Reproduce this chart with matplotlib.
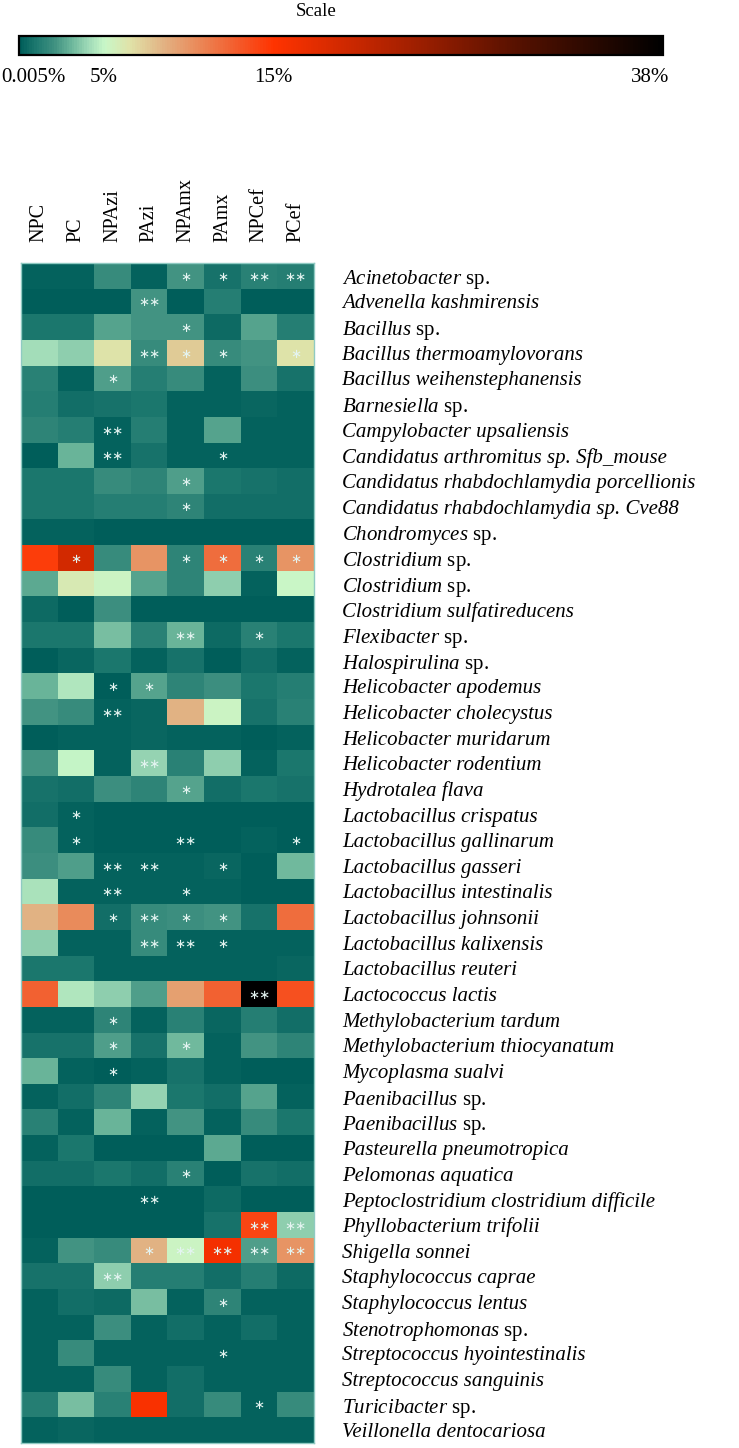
"""
Heatmap of relative abundance (%) per species and treatment group,
with significance marks and a horizontal colour scale on top.
Saves out.png.
"""
import matplotlib
matplotlib.use("Agg")
import matplotlib.pyplot as plt
from matplotlib.cm import ScalarMappable
from matplotlib.colors import LinearSegmentedColormap, Normalize
from matplotlib.transforms import ScaledTranslation

plt.rcParams["font.family"] = ["Liberation Serif", "DejaVu Serif"]
plt.rcParams["mathtext.fontset"] = "custom"
plt.rcParams["mathtext.it"] = "Liberation Serif:italic"
plt.rcParams["mathtext.rm"] = "Liberation Serif"

groups = ["NPC", "PC", "NPAzi", "PAzi", "NPAmx", "PAmx", "NPCef", "PCef"]

species = [
    "Acinetobacter sp.",
    "Advenella kashmirensis",
    "Bacillus sp.",
    "Bacillus thermoamylovorans",
    "Bacillus weihenstephanensis",
    "Barnesiella sp.",
    "Campylobacter upsaliensis",
    "Candidatus arthromitus sp. Sfb_mouse",
    "Candidatus rhabdochlamydia porcellionis",
    "Candidatus rhabdochlamydia sp. Cve88",
    "Chondromyces sp.",
    "Clostridium sp.",
    "Clostridium sp.",
    "Clostridium sulfatireducens",
    "Flexibacter sp.",
    "Halospirulina sp.",
    "Helicobacter apodemus",
    "Helicobacter cholecystus",
    "Helicobacter muridarum",
    "Helicobacter rodentium",
    "Hydrotalea flava",
    "Lactobacillus crispatus",
    "Lactobacillus gallinarum",
    "Lactobacillus gasseri",
    "Lactobacillus intestinalis",
    "Lactobacillus johnsonii",
    "Lactobacillus kalixensis",
    "Lactobacillus reuteri",
    "Lactococcus lactis",
    "Methylobacterium tardum",
    "Methylobacterium thiocyanatum",
    "Mycoplasma sualvi",
    "Paenibacillus sp.",
    "Paenibacillus sp.",
    "Pasteurella pneumotropica",
    "Pelomonas aquatica",
    "Peptoclostridium clostridium difficile",
    "Phyllobacterium trifolii",
    "Shigella sonnei",
    "Staphylococcus caprae",
    "Staphylococcus lentus",
    "Stenotrophomonas sp.",
    "Streptococcus hyointestinalis",
    "Streptococcus sanguinis",
    "Turicibacter sp.",
    "Veillonella dentocariosa",
]

# relative abundance (%), one row per species, columns in the order of groups
abundance = [
    [0.2, 0.2, 1.8, 0.2, 2.2, 0.8, 1.4, 1.3],
    [0.1, 0.1, 0.1, 2.2, 0.1, 1.2, 0.1, 0.1],
    [1.0, 0.9, 2.6, 2.2, 2.2, 0.5, 2.6, 1.2],
    [4.2, 3.8, 6.5, 1.8, 7.5, 1.8, 2.2, 6.5],
    [1.4, 0.2, 2.4, 1.2, 1.8, 0.3, 2.0, 0.8],
    [1.2, 0.6, 0.8, 1.0, 0.2, 0.2, 0.4, 0.3],
    [1.6, 1.2, 0.3, 1.2, 0.2, 2.6, 0.2, 0.2],
    [0.1, 3.0, 0.2, 0.8, 0.2, 0.2, 0.2, 0.2],
    [1.0, 1.0, 1.8, 1.6, 2.4, 1.0, 0.8, 0.6],
    [1.0, 0.9, 1.2, 1.2, 1.6, 0.7, 0.6, 0.6],
    [0.3, 0.3, 0.1, 0.1, 0.1, 0.1, 0.1, 0.1],
    [14.5, 19.0, 1.8, 10.0, 1.5, 12.0, 1.4, 10.0],
    [2.8, 6.0, 5.2, 2.6, 1.5, 3.8, 0.3, 5.1],
    [0.5, 0.1, 2.0, 0.1, 0.1, 0.1, 0.1, 0.1],
    [0.9, 0.9, 3.4, 1.4, 3.0, 0.5, 1.4, 1.0],
    [0.1, 0.4, 1.0, 0.2, 0.8, 0.1, 0.7, 0.3],
    [3.0, 4.5, 0.1, 2.6, 1.6, 2.0, 1.0, 1.2],
    [2.2, 1.8, 0.2, 0.4, 8.5, 5.2, 0.8, 1.4],
    [0.1, 0.3, 0.2, 0.4, 0.2, 0.3, 0.1, 0.2],
    [2.2, 5.0, 0.2, 4.0, 1.4, 3.8, 0.2, 1.0],
    [0.8, 0.6, 2.0, 1.6, 2.6, 0.6, 1.0, 0.8],
    [0.6, 0.2, 0.1, 0.1, 0.1, 0.1, 0.1, 0.1],
    [1.8, 0.3, 0.1, 0.1, 0.1, 0.1, 0.2, 0.1],
    [2.0, 2.4, 0.3, 0.3, 0.3, 0.4, 0.1, 3.2],
    [4.4, 0.2, 0.2, 0.2, 0.3, 0.2, 0.1, 0.1],
    [8.5, 10.5, 0.6, 1.8, 2.0, 2.2, 0.8, 12.0],
    [3.8, 0.3, 0.2, 1.8, 0.2, 0.2, 0.2, 0.3],
    [0.9, 1.0, 0.2, 0.2, 0.3, 0.2, 0.3, 0.4],
    [12.5, 4.6, 3.8, 2.4, 9.5, 12.5, 38.0, 13.5],
    [0.3, 0.3, 1.6, 0.2, 1.4, 0.4, 1.2, 0.6],
    [0.8, 0.8, 2.4, 0.8, 3.2, 0.3, 2.2, 1.6],
    [3.0, 0.2, 0.1, 0.3, 0.8, 0.3, 0.1, 0.1],
    [0.3, 0.6, 1.6, 4.0, 1.0, 0.7, 2.6, 0.3],
    [1.4, 0.2, 3.0, 0.2, 2.2, 0.2, 1.8, 1.0],
    [0.3, 1.0, 0.1, 0.1, 0.1, 2.8, 0.1, 0.1],
    [0.6, 0.6, 1.0, 0.6, 1.4, 0.1, 0.8, 0.6],
    [0.1, 0.1, 0.1, 0.1, 0.1, 0.5, 0.1, 0.1],
    [0.1, 0.1, 0.1, 0.1, 0.1, 0.8, 14.0, 3.8],
    [0.3, 2.2, 1.8, 8.5, 5.2, 16.0, 2.4, 10.0],
    [0.8, 0.8, 3.8, 1.2, 1.2, 0.6, 1.2, 0.5],
    [0.2, 0.6, 0.5, 3.4, 0.2, 1.6, 0.2, 0.2],
    [0.2, 0.2, 2.0, 0.2, 0.6, 0.2, 0.6, 0.2],
    [0.2, 1.8, 0.2, 0.3, 0.2, 0.2, 0.2, 0.2],
    [0.3, 0.2, 1.8, 0.2, 0.6, 0.2, 0.3, 0.2],
    [1.2, 3.4, 1.4, 15.5, 0.6, 1.8, 0.2, 1.8],
    [0.2, 0.4, 0.3, 0.3, 0.2, 0.2, 0.2, 0.2],
]

# significance marks, same layout as abundance
marks = [
    ["", "", "", "", "*", "*", "**", "**"],
    ["", "", "", "**", "", "", "", ""],
    ["", "", "", "", "*", "", "", ""],
    ["", "", "", "**", "*", "*", "", "*"],
    ["", "", "*", "", "", "", "", ""],
    ["", "", "", "", "", "", "", ""],
    ["", "", "**", "", "", "", "", ""],
    ["", "", "**", "", "", "*", "", ""],
    ["", "", "", "", "*", "", "", ""],
    ["", "", "", "", "*", "", "", ""],
    ["", "", "", "", "", "", "", ""],
    ["", "*", "", "", "*", "*", "*", "*"],
    ["", "", "", "", "", "", "", ""],
    ["", "", "", "", "", "", "", ""],
    ["", "", "", "", "**", "", "*", ""],
    ["", "", "", "", "", "", "", ""],
    ["", "", "*", "*", "", "", "", ""],
    ["", "", "**", "", "", "", "", ""],
    ["", "", "", "", "", "", "", ""],
    ["", "", "", "**", "", "", "", ""],
    ["", "", "", "", "*", "", "", ""],
    ["", "*", "", "", "", "", "", ""],
    ["", "*", "", "", "**", "", "", "*"],
    ["", "", "**", "**", "", "*", "", ""],
    ["", "", "**", "", "*", "", "", ""],
    ["", "", "*", "**", "*", "*", "", ""],
    ["", "", "", "**", "**", "*", "", ""],
    ["", "", "", "", "", "", "", ""],
    ["", "", "", "", "", "", "**", ""],
    ["", "", "*", "", "", "", "", ""],
    ["", "", "*", "", "*", "", "", ""],
    ["", "", "*", "", "", "", "", ""],
    ["", "", "", "", "", "", "", ""],
    ["", "", "", "", "", "", "", ""],
    ["", "", "", "", "", "", "", ""],
    ["", "", "", "", "*", "", "", ""],
    ["", "", "", "**", "", "", "", ""],
    ["", "", "", "", "", "", "**", "**"],
    ["", "", "", "*", "**", "**", "**", "**"],
    ["", "", "**", "", "", "", "", ""],
    ["", "", "", "", "", "*", "", ""],
    ["", "", "", "", "", "", "", ""],
    ["", "", "", "", "", "*", "", ""],
    ["", "", "", "", "", "", "", ""],
    ["", "", "", "", "", "", "*", ""],
    ["", "", "", "", "", "", "", ""],
]

scale_ticks = [0.005, 5, 15, 38]
scale_labels = ["0.005%", "5%", "15%", "38%"]

# colour ramp: value (%) -> colour
ramp_values = [0.005, 1, 2, 3, 4, 5, 6.5, 8.5, 10.5, 12.5, 15, 22, 30, 38]
ramp_colors = ["#005e5a", "#1f7a70", "#3e9080", "#6ab59a", "#9cd8b6", "#c8f7c8",
               "#e0e2a8", "#e2b283", "#ea8a5a", "#f26232", "#ff3300", "#b02200",
               "#501000", "#000000"]

vmin, vmax = scale_ticks[0], scale_ticks[-1]
norm = Normalize(vmin=vmin, vmax=vmax)
cmap = LinearSegmentedColormap.from_list(
    "scale", [((v - vmin) / (vmax - vmin), c) for v, c in zip(ramp_values, ramp_colors)])


def label_text(name):
    # genus in italics, a trailing "sp." upright (Candidatus names stay italic)
    if name.endswith(" sp.") and not name.startswith("Candidatus"):
        return r"$\mathit{%s}$ sp." % name[:-4]
    return name


W, H = 739, 1448
fig = plt.figure(figsize=(W / 100, H / 100), dpi=100)

# heatmap
left, right, top, bottom = 21, 314, 263, 1443
ax = fig.add_axes([left / W, 1 - bottom / H, (right - left) / W, (bottom - top) / H])
ax.imshow(abundance, cmap=cmap, norm=norm, aspect="auto", interpolation="nearest")

for i, row in enumerate(marks):
    for j, m in enumerate(row):
        if m:
            ax.text(j, i + 0.05, "\u2217" * len(m), ha="center", va="center",
                    color="#e4f4f1", fontsize=9.5, family="DejaVu Sans")

ax.xaxis.tick_top()
ax.set_xticks(range(len(groups)))
ax.set_xticklabels(groups, rotation=90, fontsize=14.5)
ax.yaxis.tick_right()
ax.set_yticks(range(len(species)))
ax.set_yticklabels([label_text(s) for s in species], fontsize=15)
for lab, s in zip(ax.get_yticklabels(), species):
    if "$" not in label_text(s):
        lab.set_fontstyle("italic")
ax.tick_params(axis="x", length=0, pad=15)
ax.tick_params(axis="y", length=0, pad=20)
for s in ax.spines.values():
    s.set_color("#8fcac2")
    s.set_linewidth(1)

# colour scale
cax = fig.add_axes([19 / W, 1 - 55 / H, 644 / W, 19 / H])
cb = fig.colorbar(ScalarMappable(norm=norm, cmap=cmap), cax=cax,
                  orientation="horizontal", ticks=scale_ticks)
cb.ax.set_xticklabels(scale_labels, fontsize=15)
cb.ax.tick_params(length=0, pad=9)
cb.outline.set_linewidth(1.6)
for lab, dx in zip(cb.ax.get_xticklabels(), [14, 0, 0, -13]):
    lab.set_transform(lab.get_transform() + ScaledTranslation(dx / 100, 0, fig.dpi_scale_trans))

fig.text(316 / W, 1 - 11 / H, "Scale", ha="center", va="center", fontsize=13.5)

fig.savefig("out.png", dpi=100)
